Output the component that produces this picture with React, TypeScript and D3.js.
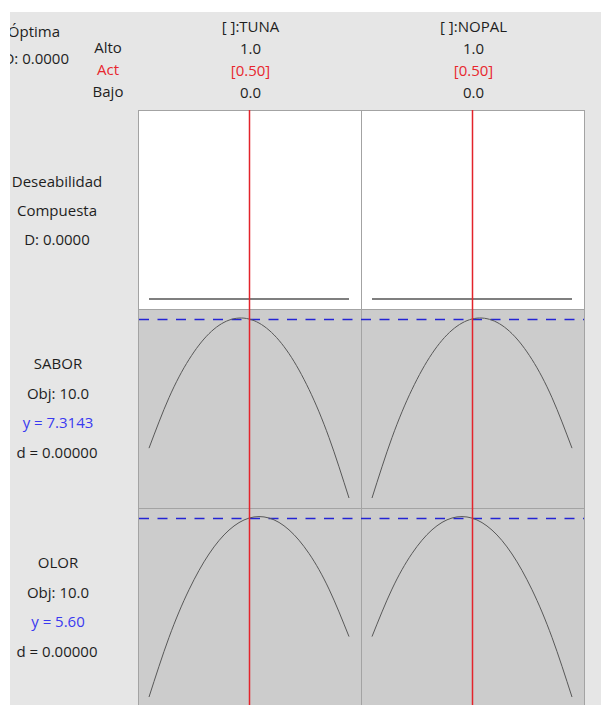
import React from 'react';
import * as d3 from 'd3';

// ---- data ----
const factors = ['[ ]:TUNA', '[ ]:NOPAL'];
const factorHigh = ['1.0', '1.0'];
const factorCurrent = ['[0.50]', '[0.50]'];
const factorLow = ['0.0', '0.0'];
const currentSetting = [0.5, 0.5];

const xGrid = [0, 0.1, 0.2, 0.3, 0.4, 0.5, 0.6, 0.7, 0.8, 0.9, 1.0];

const desirTuna = [0, 0, 0, 0, 0, 0, 0, 0, 0, 0, 0];
const desirNopal = [0, 0, 0, 0, 0, 0, 0, 0, 0, 0, 0];

const saborTuna = [4.741, 5.747, 6.507, 7.022, 7.291, 7.314, 7.092, 6.624, 5.911, 4.952, 3.748];
const saborNopal = [3.748, 4.952, 5.911, 6.624, 7.092, 7.314, 7.291, 7.022, 6.507, 5.747, 4.741];

const olorTuna = [2.047, 3.23, 4.177, 4.887, 5.362, 5.6, 5.602, 5.367, 4.897, 4.19, 3.247];
const olorNopal = [3.247, 4.19, 4.897, 5.367, 5.602, 5.6, 5.362, 4.887, 4.177, 3.23, 2.047];

const responseNames = ['SABOR', 'OLOR'];
const responseTargets = ['Obj: 10.0', 'Obj: 10.0'];
const responsePredicted = [7.3143, 5.6];
const responsePredictedLabels = ['y = 7.3143', 'y = 5.60'];
const responseD = ['d = 0.00000', 'd = 0.00000'];

const compositeLabels = ['Deseabilidad', 'Compuesta', 'D: 0.0000'];
const optimalLabels = ['Óptima', 'D: 0.0000'];
const settingLabels = ['Alto', 'Act', 'Bajo'];

export default function App() {
  const W = 601;
  const H = 705;
  const FONT = '"Open Sans", "Noto Sans", sans-serif';
  const fs = 15;
  const txt = '#1e1e1e';
  const red = '#e8262e';
  const blue = '#3a3af0';

  const plotLeft = 138;
  const colW = 223;
  const rowH = 199;
  const rowTops = [110, 309, 508];

  const xScales = factors.map((_, i) =>
    d3.scaleLinear().domain([0, 1]).range([plotLeft + i * colW + 11, plotLeft + (i + 1) * colW - 12])
  );

  const rows = [
    { series: [desirTuna, desirNopal], domain: [0, 1] as [number, number], fill: '#ffffff', ref: null as number | null },
    { series: [saborTuna, saborNopal], domain: null, fill: '#cccccc', ref: responsePredicted[0] },
    { series: [olorTuna, olorNopal], domain: null, fill: '#cccccc', ref: responsePredicted[1] },
  ];

  const line = (xs: d3.ScaleLinear<number, number>, ys: d3.ScaleLinear<number, number>) =>
    d3
      .line<number>()
      .x((_, k) => xs(xGrid[k]))
      .y((v) => ys(v))
      .curve(d3.curveNatural);

  return (
    <svg
      width={W}
      height={H}
      style={{ position: 'absolute', left: 0, top: 0, display: 'block', background: '#ffffff' }}
      fontFamily={FONT}
      fontSize={fs}
    >
      <defs>
        <clipPath id="area">
          <rect x={10} y={12} width={W - 10} height={H - 12} />
        </clipPath>
      </defs>
      <g clipPath="url(#area)">
        <rect x={10} y={12} width={W - 10} height={H - 12} fill="#e6e6e6" />

        {/* optimal */}
        <text x={60} y={37} textAnchor="end" fill={txt}>{optimalLabels[0]}</text>
        <text x={69} y={64} textAnchor="end" fill={txt}>{optimalLabels[1]}</text>

        {/* setting labels */}
        {settingLabels.map((s, i) => (
          <text key={s} x={108} y={53 + i * 22} textAnchor="middle" fill={i === 1 ? red : txt}>
            {s}
          </text>
        ))}

        {/* factor headers */}
        {factors.map((f, i) => {
          const cx = xScales[i](currentSetting[i]) + 1.5;
          return (
            <g key={f}>
              <text x={cx} y={32} textAnchor="middle" fill={txt}>{f}</text>
              <text x={cx} y={54} textAnchor="middle" fill={txt}>{factorHigh[i]}</text>
              <text x={cx} y={76} textAnchor="middle" fill={red}>{factorCurrent[i]}</text>
              <text x={cx} y={98} textAnchor="middle" fill={txt}>{factorLow[i]}</text>
            </g>
          );
        })}

        {/* panels */}
        {rows.map((row, r) => {
          const top = rowTops[r];
          const all = row.series.flat();
          const dom = row.domain ?? (d3.extent(all) as [number, number]);
          const ys = d3.scaleLinear().domain(dom).range([top + rowH - 10, top + 10]);
          return (
            <g key={r}>
              {factors.map((_, i) => (
                <rect
                  key={i}
                  x={plotLeft + i * colW + 0.5}
                  y={top + 0.5}
                  width={colW}
                  height={rowH}
                  fill={row.fill}
                  stroke="#a3a3a3"
                  strokeWidth={1}
                />
              ))}
              {row.ref !== null && (
                <line
                  x1={plotLeft + 1}
                  x2={plotLeft + 2 * colW}
                  y1={Math.round(ys(row.ref)) + 0.5}
                  y2={Math.round(ys(row.ref)) + 0.5}
                  stroke="#2424d4"
                  strokeWidth={1.3}
                  strokeDasharray="10,8.5"
                />
              )}
              {row.series.map((s, i) => (
                <path
                  key={i}
                  d={line(xScales[i], ys)(s) ?? ''}
                  fill="none"
                  stroke={r === 0 ? '#555555' : '#585858'}
                  strokeWidth={r === 0 ? 1.4 : 1}
                />
              ))}
            </g>
          );
        })}

        {/* current setting red lines */}
        {factors.map((_, i) => (
          <line
            key={i}
            x1={xScales[i](currentSetting[i]) + 0.5}
            x2={xScales[i](currentSetting[i]) + 0.5}
            y1={rowTops[0]}
            y2={H}
            stroke="#e3232b"
            strokeWidth={1.5}
          />
        ))}

        {/* left labels */}
        {compositeLabels.map((s, i) => (
          <text key={s} x={57} y={187 + i * 29} textAnchor="middle" fill={txt}>{s}</text>
        ))}
        {responseNames.map((name, r) => {
          const base = 369 + r * 199;
          return (
            <g key={name}>
              <text x={58} y={base} textAnchor="middle" fill={txt}>{name}</text>
              <text x={58} y={base + 29.5} textAnchor="middle" fill={txt}>{responseTargets[r]}</text>
              <text x={58} y={base + 59} textAnchor="middle" fill={blue}>{responsePredictedLabels[r]}</text>
              <text x={57} y={base + 89} textAnchor="middle" fill={txt}>{responseD[r]}</text>
            </g>
          );
        })}
      </g>
    </svg>
  );
}
